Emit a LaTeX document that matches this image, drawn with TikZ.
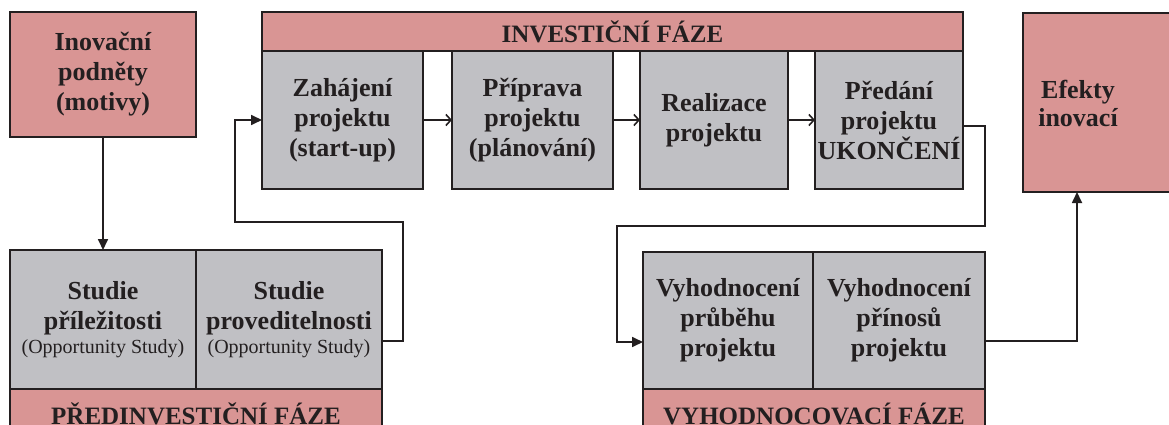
\documentclass[tikz,border=0pt]{standalone}
\usepackage{fontspec}
\setmainfont{Liberation Serif}
\usetikzlibrary{arrows.meta}
\definecolor{phase}{HTML}{D99594}
\definecolor{stage}{HTML}{C0C0C4}
\definecolor{ink}{HTML}{231F20}
\tikzset{
  frame/.style={draw=ink, line width=1.7pt, inner sep=0pt, outer sep=0pt,
    anchor=north west, align=center, text=ink,
    font=\fontsize{26}{30}\selectfont\bfseries},
  stagebox/.style={frame, fill=stage},
  phasebox/.style={frame, fill=phase},
  band/.style={phasebox, font=\fontsize{25}{30}\selectfont\bfseries,
    text height=23pt, text depth=0pt},
  flow/.style={draw=ink, line width=1.7pt, -{Triangle[length=11pt,width=10pt]}},
  step arrow/.style={draw=ink, line width=1.7pt,
    -{Straight Barb[length=5pt,width=11pt,line width=1.6pt]}}
}
\begin{document}
\begin{tikzpicture}[x=1pt,y=-1pt]
\useasboundingbox (0,0) rectangle (1169,425);

% trigger
\node[phasebox, minimum width=186pt, minimum height=125pt] (inov) at (10,12)
  {Inovační\\podněty\\(motivy)};

% pre-investment phase
\node[stagebox, minimum width=186pt, minimum height=139pt] (s1) at (10,250)
  {Studie\\příležitosti\\[-6pt]{\fontsize{20}{24}\selectfont\mdseries (Opportunity Study)}};
\node[stagebox, minimum width=186pt, minimum height=139pt] (s2) at (196,250)
  {Studie\\proveditelnosti\\[-6pt]{\fontsize{20}{24}\selectfont\mdseries (Opportunity Study)}};
\node[band, minimum width=372pt, minimum height=47pt] (preinv) at (10,389)
  {PŘEDINVESTIČNÍ FÁZE};

% investment phase
\node[band, minimum width=701pt, minimum height=39pt] (inv) at (262,12)
  {INVESTIČNÍ FÁZE};
\node[stagebox, minimum width=161pt, minimum height=138pt] (zah) at (262,51)
  {Zahájení\\projektu\\(start-up)};
\node[stagebox, minimum width=161pt, minimum height=138pt] (pri) at (452,51)
  {Příprava\\projektu\\(plánování)};
\node[stagebox, minimum width=148pt, minimum height=138pt] (rea) at (640,51)
  {Realizace\\projektu};
\node[stagebox, minimum width=148pt, minimum height=138pt] (pre) at (815,51)
  {Předání\\projektu\\UKONČENÍ};

% evaluation phase
\node[stagebox, minimum width=170pt, minimum height=137pt] (v1) at (643,252)
  {Vyhodnocení\\průběhu\\projektu};
\node[stagebox, minimum width=172pt, minimum height=137pt] (v2) at (813,252)
  {Vyhodnocení\\přínosů\\projektu};
\node[band, minimum width=342pt, minimum height=47pt] (evalph) at (643,389)
  {VYHODNOCOVACÍ FÁZE};

% outcome
\node[phasebox, minimum width=160pt, minimum height=179pt] (eff) at (1023,13) {};
\node[align=center, text=ink, font=\fontsize{26}{28}\selectfont\bfseries,
  inner sep=0pt] (efftext) at (1078,103) {Efekty\\inovací};

% connectors
\draw[flow] (inov.south) -- (s1.north);
\draw[flow] ([yshift=-21.5pt]s2.east) -- ++(21,0) |- (235,222) |- (zah.west);
\draw[step arrow] (zah.east) -- (pri.west);
\draw[step arrow] (pri.east) -- (rea.west);
\draw[step arrow] (rea.east) -- (pre.west);
\draw[flow] ([yshift=-6pt]pre.east) -- ++(22,0) |- (617,226) |- ([yshift=-21.5pt]v1.west);
\draw[flow] ([yshift=-20.5pt]v2.east) -| ([xshift=-26pt]eff.south);
\end{tikzpicture}
\end{document}
